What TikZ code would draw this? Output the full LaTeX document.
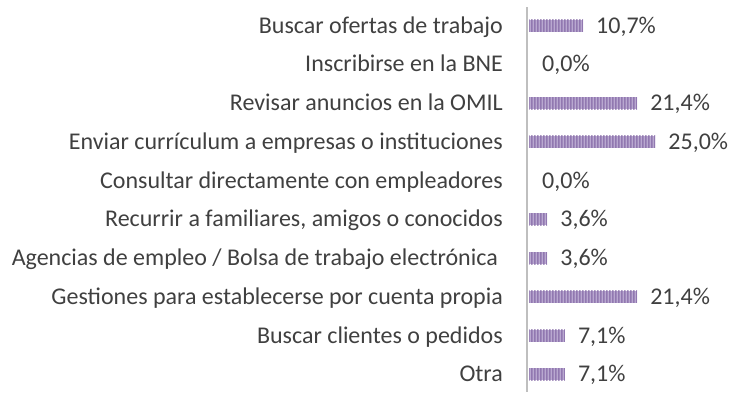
\documentclass[tikz,border=0pt]{standalone}
\usepackage{fontspec}
\setmainfont{Carlito}
\usetikzlibrary{patterns.meta}
\definecolor{txt}{HTML}{404040}
\definecolor{axisgray}{HTML}{BFBFBF}
\definecolor{barpurple}{HTML}{7D5FA0}
\definecolor{barlight}{HTML}{B9A8D0}
\tikzdeclarepattern{name=vstripes, type=uncolored, bounding box={(0,0) and (3pt,1pt)}, tile size={(3pt,1pt)}, code={\fill (0,0) rectangle (2pt,1pt);}}
\begin{document}
\begin{tikzpicture}[x=1pt,y=-1pt,
  lab/.style={anchor=base east, text=txt, font=\fontsize{24}{28}\selectfont, inner sep=0pt},
  val/.style={anchor=base west, text=txt, font=\fontsize{24}{28}\selectfont, inner sep=0pt},
  axisline/.style={draw=axisgray, line width=2.5pt}]
\useasboundingbox (0,0) rectangle (734,392);
\def\xz{529}
\def\sc{5.05}
\foreach \i/\name/\v/\vt in {
  1/{Buscar ofertas de trabajo}/10.7/{10,7\%},
  2/{Inscribirse en la BNE}/0/{0,0\%},
  3/{Revisar anuncios en la OMIL}/21.4/{21,4\%},
  4/{Enviar currículum a empresas o instituciones}/25.0/{25,0\%},
  5/{Consultar directamente con empleadores}/0/{0,0\%},
  6/{Recurrir a familiares, amigos o conocidos}/3.6/{3,6\%},
  7/{Agencias de empleo / Bolsa de trabajo electrónica}/3.6/{3,6\%},
  8/{Gestiones para establecerse por cuenta propia}/21.4/{21,4\%},
  9/{Buscar clientes o pedidos}/7.1/{7,1\%},
  10/{Otra}/7.1/{7,1\%}} {
  \pgfmathsetmacro{\yy}{25.5+38.75*(\i-1)}
  \pgfmathsetmacro{\xe}{\xz+\sc*\v}
  \ifnum\i=7
    \node[lab] (l\i) at (498,\yy+7.5) {\name};
  \else
    \node[lab] (l\i) at (503,\yy+7.5) {\name};
  \fi
  \pgfmathparse{\v>0?1:0}
  \ifnum\pgfmathresult=1
    \fill[barlight] (\xz,\yy-6) rectangle (\xe,\yy+6);
    \fill[pattern=vstripes, pattern color=barpurple] (\xz,\yy-6) rectangle (\xe,\yy+6);
  \fi
  \coordinate (e\i) at (\xe,\yy+7.5);
  \node[val] (v\i) at ([xshift=13pt]e\i) {\vt};
}
\coordinate (atop) at (527,7);
\coordinate (abot) at (527,392);
\draw[axisline] (atop) -- (abot);
\end{tikzpicture}
\end{document}
